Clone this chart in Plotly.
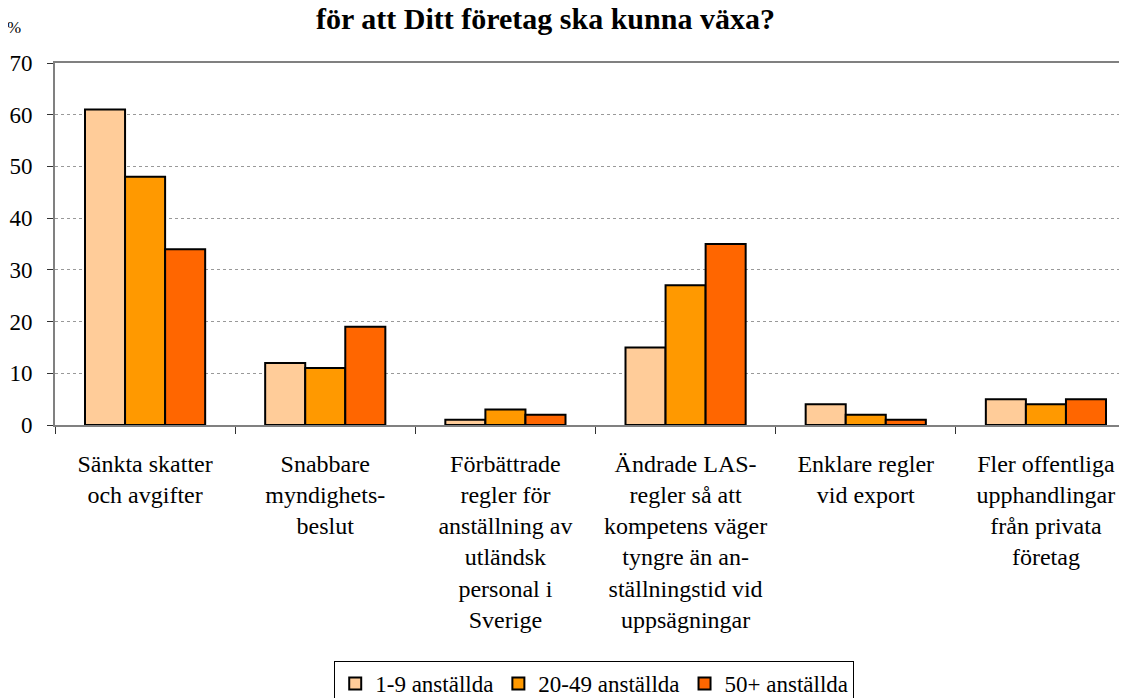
import plotly.graph_objects as go

# categories (x tick labels, line breaks as in the original)
categories = [
    "Sänkta skatter<br>och avgifter",
    "Snabbare<br>myndighets-<br>beslut",
    "Förbättrade<br>regler för<br>anställning av<br>utländsk<br>personal i<br>Sverige",
    "Ändrade LAS-<br>regler så att<br>kompetens väger<br>tyngre än an-<br>ställningstid vid<br>uppsägningar",
    "Enklare regler<br>vid export",
    "Fler offentliga<br>upphandlingar<br>från privata<br>företag",
]

small = [61, 12, 1, 15, 4, 5]     # 1-9 anställda
medium = [48, 11, 3, 27, 2, 4]    # 20-49 anställda
large = [34, 19, 2, 35, 1, 5]     # 50+ anställda

series_names = ["1-9 anställda", "20-49 anställda", "50+ anställda"]
series_colors = ["#FFCC99", "#FF9900", "#FF6600"]

FONT = '"Liberation Serif", "Times New Roman", serif'

fig = go.Figure()

for name, values, color in zip(series_names, [small, medium, large], series_colors):
    fig.add_trace(
        go.Bar(
            x=categories,
            y=values,
            name=name,
            marker=dict(color=color, line=dict(color="black", width=2)),
        )
    )

# page body has an 8px margin, so the figure is a bit smaller than the window
fig.update_layout(
    width=1119,
    height=690,
    margin=dict(l=47, r=0, t=55, b=273, autoexpand=False),
    paper_bgcolor="white",
    plot_bgcolor="white",
    font=dict(family=FONT, size=24, color="black"),
    barmode="group",
    bargap=0.333,
    bargroupgap=0,
    showlegend=True,
    legend=dict(
        orientation="h",
        x=0.503,
        xanchor="center",
        y=-0.652,
        yanchor="top",
        bordercolor="black",
        borderwidth=1,
        bgcolor="white",
        font=dict(family=FONT, size=23),
    ),
)

fig.update_xaxes(
    type="category",
    range=[-0.5, 5.45],
    showline=True,
    mirror=True,
    linecolor="#808080",
    linewidth=2,
    ticks="outside",
    tickson="boundaries",
    ticklen=7,
    tickcolor="#333333",
    ticklabelstandoff=16,
    tickfont=dict(family=FONT, size=24),
    showgrid=False,
)

fig.update_yaxes(
    range=[0, 70],
    dtick=10,
    showline=True,
    linecolor="#808080",
    linewidth=2,
    ticks="outside",
    ticklen=6,
    tickcolor="#333333",
    ticklabelstandoff=10,
    showgrid=True,
    gridcolor="#999999",
    griddash="dot",
    gridwidth=1,
    zeroline=False,
    tickfont=dict(family=FONT, size=23),
)

fig.add_annotation(
    text="<b>för att Ditt företag ska kunna växa?</b>",
    xref="paper",
    yref="paper",
    x=0.458,
    y=1.073,
    xanchor="center",
    yanchor="bottom",
    showarrow=False,
    font=dict(family=FONT, size=30, color="black"),
)

fig.add_annotation(
    text="%",
    xref="paper",
    yref="paper",
    x=-0.038,
    y=1.097,
    xanchor="center",
    yanchor="middle",
    showarrow=False,
    font=dict(family=FONT, size=17, color="black"),
)

fig.write_html("out.html")
